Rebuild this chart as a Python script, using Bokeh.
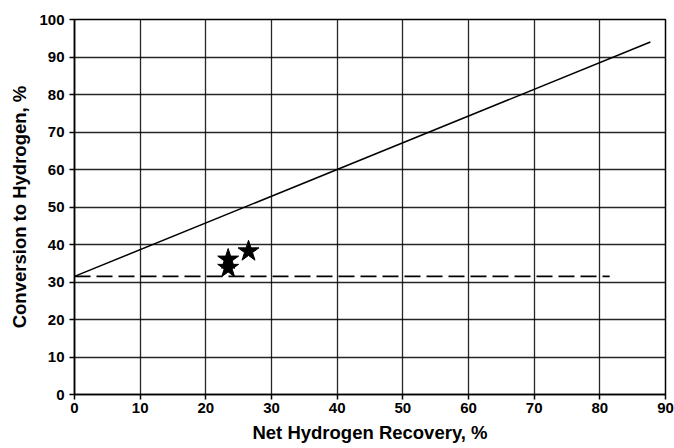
from bokeh.plotting import figure
from bokeh.models import Range1d, FixedTicker
from bokeh.embed import file_html
from bokeh.resources import INLINE

# data
line_x = [0, 87.7]
line_y = [31.5, 94.0]
dash_x = [0, 81.5]
dash_y = [31.5, 31.5]
star_x = [23.4, 23.4, 26.5]
star_y = [36.0, 33.8, 38.2]
x_ticks = [0, 10, 20, 30, 40, 50, 60, 70, 80, 90]
y_ticks = [0, 10, 20, 30, 40, 50, 60, 70, 80, 90, 100]

p = figure(width=674, height=448, output_backend="svg", toolbar_location=None,
           x_range=Range1d(0, 90), y_range=Range1d(0, 100),
           min_border_left=74, min_border_right=9, min_border_top=19, min_border_bottom=54)
p.background_fill_color = "white"
p.border_fill_color = "white"
p.outline_line_color = "black"
p.outline_line_width = 1.5

for ax in (p.xaxis[0], p.yaxis[0]):
    ax.axis_line_color = "black"
    ax.axis_line_width = 1.5
    ax.major_tick_line_color = "black"
    ax.major_tick_line_width = 1.5
    ax.major_tick_out = 5
    ax.major_tick_in = 0
    ax.minor_tick_line_color = None
    ax.major_label_text_font = "Liberation Sans"
    ax.major_label_text_font_style = "bold"
    ax.major_label_text_font_size = "15px"
    ax.major_label_text_color = "black"
    ax.axis_label_text_font = "Liberation Sans"
    ax.axis_label_text_font_style = "bold"
    ax.axis_label_text_font_size = "18.5px"
    ax.axis_label_text_color = "black"

p.xaxis.ticker = FixedTicker(ticks=x_ticks)
p.yaxis.ticker = FixedTicker(ticks=y_ticks)
p.xaxis.axis_label = "Net Hydrogen Recovery, %"
p.yaxis.axis_label = "Conversion to Hydrogen, %"
p.xaxis.major_label_standoff = 3
p.yaxis.major_label_standoff = 5
p.xaxis.axis_label_standoff = 6
p.yaxis.axis_label_standoff = 6

p.xgrid.ticker = FixedTicker(ticks=x_ticks)
p.ygrid.ticker = FixedTicker(ticks=y_ticks)
p.grid.grid_line_color = "black"
p.grid.grid_line_width = 1.3
p.grid.grid_line_alpha = 0.85

p.line(line_x, line_y, line_color="black", line_width=1.5)
p.line(dash_x, dash_y, line_color="black", line_width=1.8, line_dash="16 6")
p.scatter(star_x, star_y, marker="star", size=22, fill_color="black", line_color="black")

open("out.html", "w").write(file_html(p, INLINE))
